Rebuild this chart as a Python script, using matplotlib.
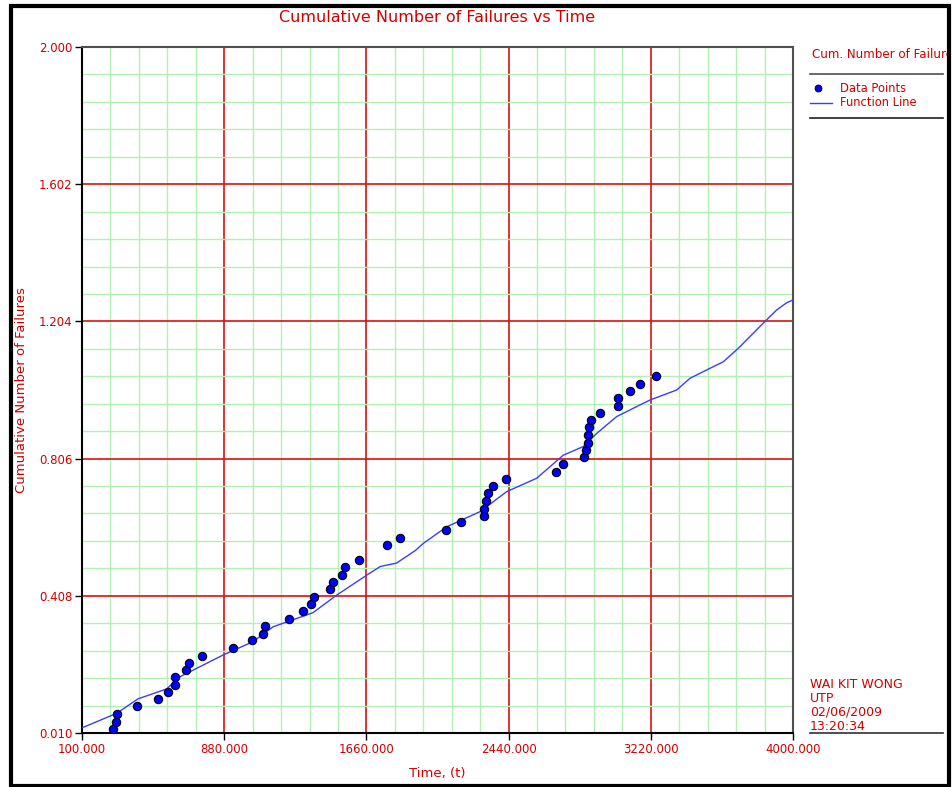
import numpy as np
import matplotlib
matplotlib.use("Agg")
import matplotlib.pyplot as plt
import matplotlib.patches as patches
from matplotlib.lines import Line2D
from matplotlib.ticker import FixedLocator

# failure times and cumulative counts
fail_t = [271.7, 284.8, 290.3, 403.3, 518.5, 573.4, 611.8, 611.8, 670.4, 686.9,
          756.6, 926.6, 1034.0, 1092.8, 1103.8, 1237.0, 1310.5, 1354.4, 1372.5, 1458.6,
          1475.0, 1527.8, 1540.9, 1621.0, 1774.6, 1844.2, 2096.5, 2178.9, 2303.3, 2303.3,
          2316.0, 2325.3, 2356.0, 2425.9, 2700.0, 2740.3, 2855.4, 2864.4, 2877.3, 2877.3,
          2882.7, 2892.0, 2941.5, 3038.6, 3038.6, 3106.0, 3160.9, 3248.6]
fail_n = [0.022, 0.043, 0.066, 0.088, 0.108, 0.128, 0.148, 0.173, 0.193, 0.214,
          0.234, 0.257, 0.280, 0.298, 0.320, 0.342, 0.364, 0.384, 0.405, 0.427,
          0.449, 0.469, 0.491, 0.512, 0.555, 0.577, 0.599, 0.621, 0.640, 0.661,
          0.683, 0.705, 0.726, 0.746, 0.766, 0.789, 0.810, 0.832, 0.852, 0.874,
          0.897, 0.918, 0.938, 0.960, 0.982, 1.002, 1.023, 1.047]

# fitted function line
fit_t = [100, 290, 407, 565, 637, 873, 1038, 1148, 1367, 1497, 1662, 1736, 1826,
         1930, 1972, 2100, 2283, 2429, 2594, 2740, 2850, 2923, 3033, 3143, 3216,
         3362, 3435, 3545, 3618, 3700, 3837, 3910, 3965, 4000]
fit_n = [0.025, 0.067, 0.109, 0.138, 0.173, 0.236, 0.275, 0.318, 0.359, 0.410,
         0.468, 0.493, 0.503, 0.540, 0.560, 0.608, 0.652, 0.710, 0.749, 0.816,
         0.841, 0.879, 0.928, 0.957, 0.976, 1.005, 1.039, 1.068, 1.087, 1.126,
         1.199, 1.237, 1.258, 1.266]

x_major = np.arange(100, 4001, 780)
x_minor = np.arange(100, 4001, 156)
y_major = np.linspace(0.010, 2.000, 6)
y_minor = np.linspace(0.010, 2.000, 26)

red = '#d00000'
W, H = 953, 787
fig = plt.figure(figsize=(W / 100, H / 100), dpi=100)
ax = fig.add_axes([82 / W, (H - 733) / H, 711 / W, 686 / H])

ax.set_xlim(100, 4000)
ax.set_ylim(0.010, 2.000)
ax.xaxis.set_major_locator(FixedLocator(x_major))
ax.xaxis.set_minor_locator(FixedLocator(x_minor))
ax.yaxis.set_major_locator(FixedLocator(y_major))
ax.yaxis.set_minor_locator(FixedLocator(y_minor))
ax.set_xticklabels([f"{v:.3f}" for v in x_major])
ax.set_yticklabels([f"{v:.3f}" for v in y_major])

ax.grid(which='minor', color='#b4f0b4', lw=1.0, zorder=0)
ax.grid(which='major', color='#d81010', lw=1.2, zorder=1)
ax.set_axisbelow(True)
ax.tick_params(which='major', direction='out', length=5, width=1, color='black',
               labelcolor=red, labelsize=8.5, pad=2)
ax.tick_params(which='minor', length=0)

for s in ['left', 'bottom']:
    ax.spines[s].set_color('black')
    ax.spines[s].set_linewidth(1.5)
for s in ['top', 'right']:
    ax.spines[s].set_color('#505050')
    ax.spines[s].set_linewidth(1.5)

ax.plot(fit_t, fit_n, color='#3c3cff', lw=1.0, zorder=3)
ax.plot(fail_t, fail_n, 'o', color='#0000ff', mec='black', mew=0.8, ms=6, zorder=4)

ax.set_xlabel('Time, (t)', color=red, fontsize=9.5, labelpad=8)
ax.set_ylabel('Cumulative Number of Failures', color=red, fontsize=9.5, labelpad=8)
fig.text(437 / W, 1 - 18 / H, 'Cumulative Number of Failures vs Time', color=red,
         fontsize=11.5, ha='center', va='center')

# outer frame
frame = patches.Rectangle((10.5 / W, 1.5 / H), 939 / W, 780 / H, transform=fig.transFigure,
                          fill=False, edgecolor='black', lw=3.0, zorder=10)
fig.patches.append(frame)
clip = patches.Rectangle((0, 0), 947 / W, 1, transform=fig.transFigure, visible=False)
fig.patches.append(clip)

# legend block
leg = fig.text(812 / W, 1 - 55 / H, 'Cum. Number of Failures', color=red, fontsize=8.6,
               ha='left', va='center')
leg.set_clip_path(clip)
fig.add_artist(Line2D([810 / W, 943 / W], [1 - 74 / H] * 2, transform=fig.transFigure,
                      color='#505050', lw=1.2))
fig.add_artist(Line2D([818 / W], [1 - 88 / H], transform=fig.transFigure, marker='o',
                      color='#0000ff', mec='black', mew=0.6, ms=5, ls='none'))
fig.text(840 / W, 1 - 88 / H, 'Data Points', color=red, fontsize=8.3, va='center')
fig.add_artist(Line2D([810 / W, 832 / W], [1 - 103 / H] * 2, transform=fig.transFigure,
                      color='#3c3cff', lw=1.0))
fig.text(840 / W, 1 - 102 / H, 'Function Line', color=red, fontsize=8.3, va='center')
fig.add_artist(Line2D([810 / W, 943 / W], [1 - 118 / H] * 2, transform=fig.transFigure,
                      color='#202020', lw=1.2))

# author stamp
for i, line in enumerate(['WAI KIT WONG', 'UTP', '02/06/2009', '13:20:34']):
    fig.text(810 / W, 1 - (684 + 14 * i) / H, line, color=red, fontsize=9, va='center')
fig.add_artist(Line2D([810 / W, 943 / W], [1 - 733 / H] * 2, transform=fig.transFigure,
                      color='#303030', lw=1.2))

fig.savefig('out.png', dpi=100, facecolor='white')
